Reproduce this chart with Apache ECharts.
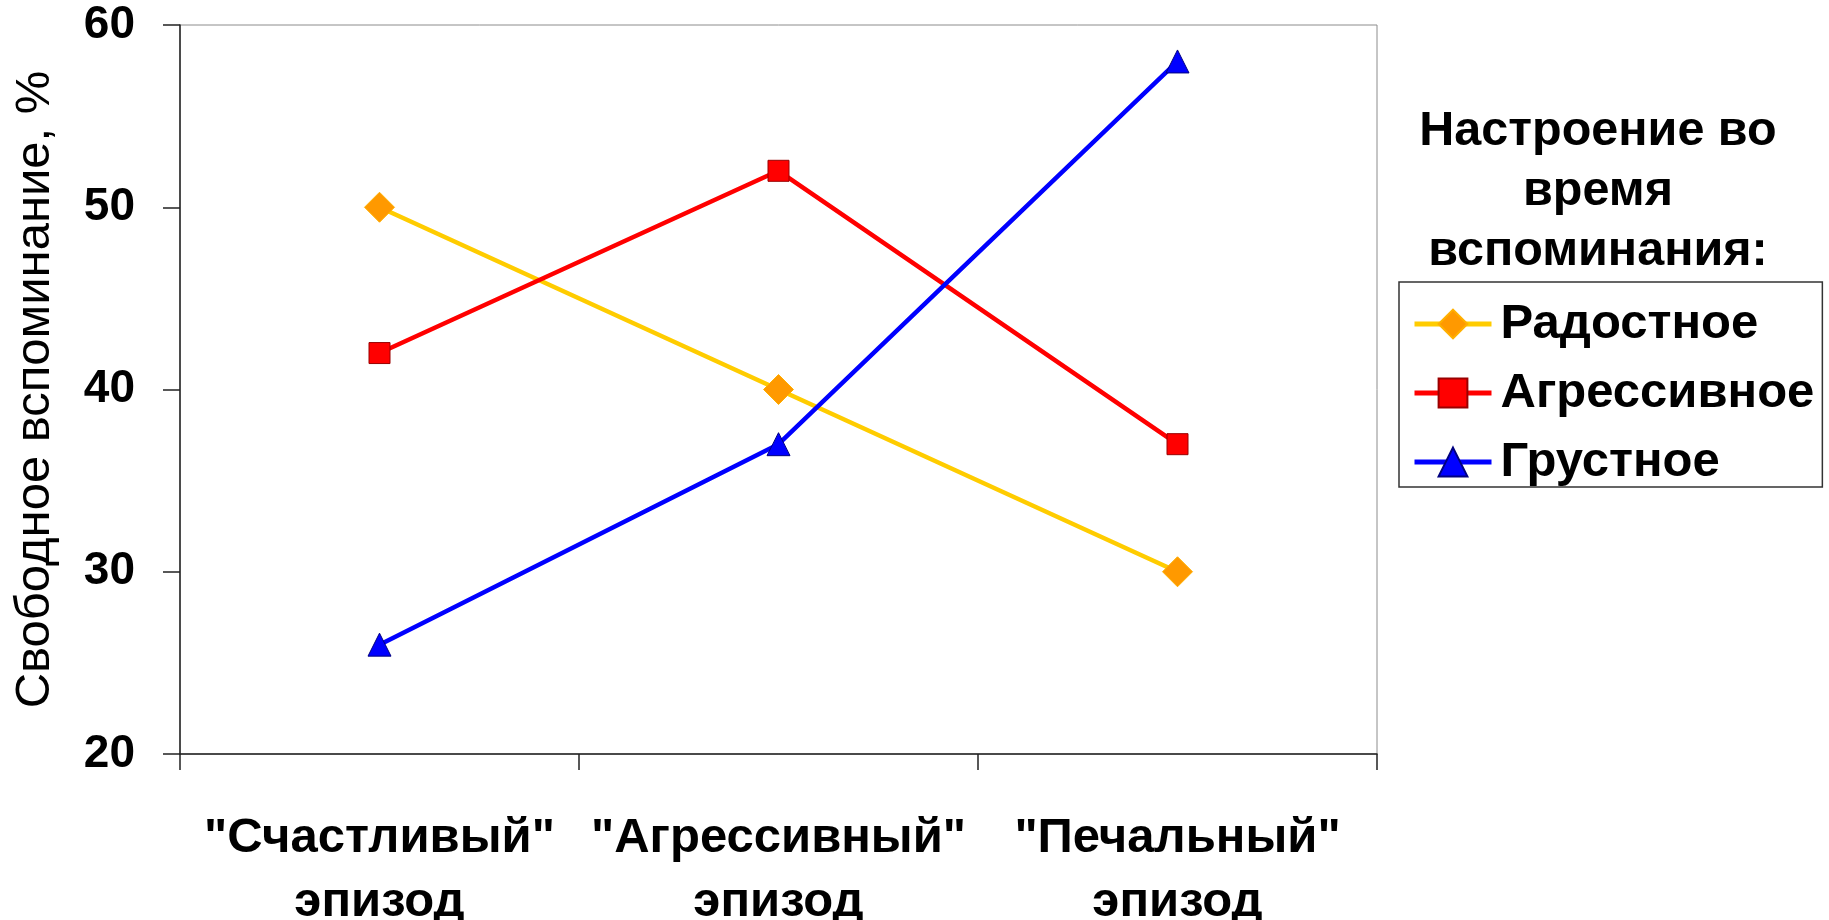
<!DOCTYPE html>
<html>
<head>
<meta charset="utf-8">
<script src="https://cdn.jsdelivr.net/npm/echarts@6/dist/echarts.min.js"></script>
<style>
  html, body { margin: 0; padding: 0; background: #fff; }
  #chart { width: 1829px; height: 920px; }
</style>
</head>
<body>
<div id="chart"></div>
<script>
// Episode categories (x axis)
const categories = ['"Счастливый"\nэпизод', '"Агрессивный"\nэпизод', '"Печальный"\nэпизод'];

// Free recall, % — by mood during recall
const seriesNames = ['Радостное', 'Агрессивное', 'Грустное'];
const joyful = [50, 40, 30];
const aggressive = [42, 52, 37];
const sad = [26, 37, 58];

// Y axis range
const yMin = 20, yMax = 60, yStep = 10;

const FONT = '"Liberation Sans", Arial, sans-serif';

const chart = echarts.init(document.getElementById('chart'), null, { renderer: 'canvas' });

chart.setOption({
  animation: false,
  backgroundColor: '#fff',
  grid: {
    left: 180, right: 452, top: 25, bottom: 166,
    outerBoundsMode: 'none',
    containLabel: false,
    show: true, borderColor: '#8c8c8c', borderWidth: 1, backgroundColor: 'transparent'
  },
  graphic: [{
    type: 'text',
    x: 1598, y: 102,
    style: {
      text: 'Настроение во\nвремя\nвспоминания:',
      fontFamily: FONT, fontWeight: 'bold', fontSize: 48.5,
      lineHeight: 60,
      textAlign: 'center', textVerticalAlign: 'top',
      fill: '#000'
    }
  }],
  legend: {
    orient: 'vertical',
    left: 1399, top: 282,
    padding: [17, 8, 0, 13],
    itemGap: 19,
    itemWidth: 77, itemHeight: 36,
    borderColor: '#333', borderWidth: 1.5,
    lineStyle: { width: 5 },
    textStyle: { fontFamily: FONT, fontWeight: 'bold', fontSize: 49, lineHeight: 50, color: '#000', padding: [0, 0, 0, 4] },
    data: seriesNames
  },
  xAxis: {
    type: 'category',
    data: categories,
    boundaryGap: true,
    axisLine: { lineStyle: { color: '#222', width: 1.5 } },
    axisTick: { show: true, length: 16, alignWithLabel: false, lineStyle: { color: '#222', width: 1.5 } },
    axisLabel: {
      fontFamily: FONT, fontWeight: 'bold', fontSize: 49, lineHeight: 64,
      color: '#000', margin: 52, interval: 0
    },
    splitLine: { show: false }
  },
  yAxis: {
    type: 'value',
    min: yMin, max: yMax, interval: yStep,
    name: 'Свободное вспоминание, %',
    nameLocation: 'middle',
    nameGap: 120,
    nameTextStyle: { fontFamily: FONT, fontSize: 49, color: '#000' },
    axisLine: { show: true, lineStyle: { color: '#222', width: 1.5 } },
    axisTick: { show: true, length: 17, lineStyle: { color: '#222', width: 1.5 } },
    axisLabel: { fontFamily: FONT, fontWeight: 'bold', fontSize: 46, color: '#000', margin: 45 },
    splitLine: { show: false }
  },
  series: [
    {
      name: seriesNames[0], type: 'line', data: joyful,
      symbol: 'diamond', symbolSize: 30,
      lineStyle: { color: '#FFCC00', width: 4.5 },
      itemStyle: { color: '#FF9900', borderColor: '#FFB000', borderWidth: 1 },
      z: 2
    },
    {
      name: seriesNames[1], type: 'line', data: aggressive,
      symbol: 'rect', symbolSize: 21,
      lineStyle: { color: '#FF0000', width: 4.5 },
      itemStyle: { color: '#FF0000', borderColor: '#990000', borderWidth: 1 },
      z: 3
    },
    {
      name: seriesNames[2], type: 'line', data: sad,
      symbol: 'triangle', symbolSize: 23,
      lineStyle: { color: '#0000FF', width: 4.5 },
      itemStyle: { color: '#0000FF', borderColor: '#000080', borderWidth: 1 },
      z: 4
    }
  ]
});
</script>
</body>
</html>
